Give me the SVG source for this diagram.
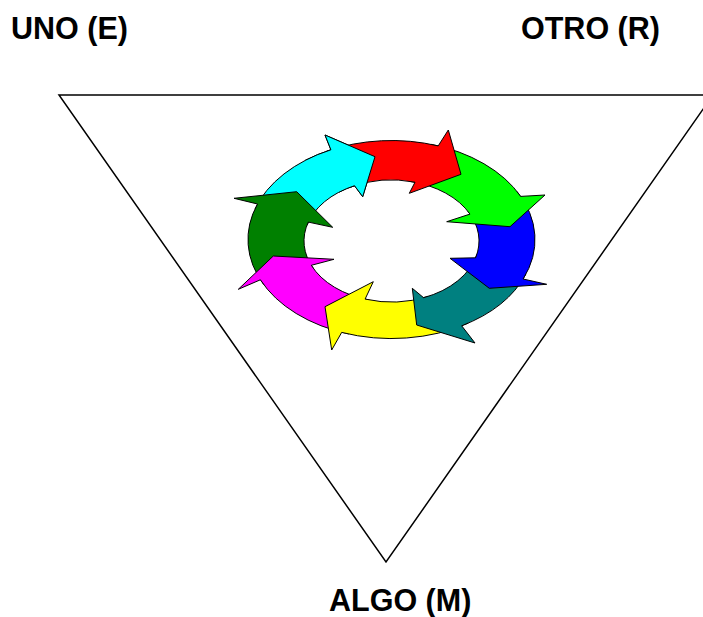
<svg xmlns="http://www.w3.org/2000/svg" width="703" height="617" viewBox="0 0 703 617">
<style>
.lbl{font-family:"Liberation Sans",Arial,sans-serif;font-weight:bold;font-size:30.5px;fill:#000}
.arw{stroke:#000;stroke-width:1;stroke-linejoin:miter}
.tri{fill:#fff;stroke:#000;stroke-width:1.5}
</style>
<rect width="703" height="617" fill="#fff"/>
<g id="triangle"><polygon class="tri" points="59,95 713,95 386,562"/></g>
<g id="label-uno"><text class="lbl" x="11" y="39">UNO (E)</text></g>
<g id="label-otro"><text class="lbl" x="521" y="39">OTRO (R)</text></g>
<g id="label-algo"><text class="lbl" x="329" y="611">ALGO (M)</text></g>
<g id="cycle">
<g id="arrow-cyan"><path class="arw" fill="#00FFFF" d="M255,208.9 A143.5,99 0 0 1 330.9,149.8 L325,135 L375,156.7 L362.7,196.7 L354.5,185.7 A87.5,61 0 0 0 307,225.2 Z"/></g>
<g id="arrow-darkgreen"><path class="arw" fill="#008000" d="M263.6,284.4 A143.5,99 0 0 1 257.5,204 L234,198.3 L296.7,191.7 L332.7,227.3 L308.3,222.1 A87.5,61 0 0 0 313.2,268.2 Z"/></g>
<g id="arrow-magenta"><path class="arw" fill="#FF00FF" d="M348.9,334 A143.5,99 0 0 1 260.4,279.8 L238.3,289.3 L273.3,256 L334,259.3 L311.3,265.3 A87.5,61 0 0 0 369.4,300 Z"/></g>
<g id="arrow-yellow"><path class="arw" fill="#FFFF00" d="M468.2,323.2 A143.5,99 0 0 1 341.7,332.4 L331.7,350 L325,306.7 L373.3,281.7 L365.1,299.1 A87.5,61 0 0 0 427.8,296.5 Z"/></g>
<g id="arrow-teal"><path class="arw" fill="#008080" d="M525.9,274.2 A143.5,99 0 0 1 461.7,325.8 L475,343 L416.7,325 L412.3,288.3 L423.6,297.7 A87.5,61 0 0 0 476.8,254.7 Z"/></g>
<g id="arrow-blue"><path class="arw" fill="#0000FF" d="M517.2,191.8 A143.5,99 0 0 1 523.1,279 L546.7,284.3 L489.3,288.3 L450,258.3 L475.6,257.8 A87.5,61 0 0 0 467.9,211.2 Z"/></g>
<g id="arrow-green"><path class="arw" fill="#00FF00" d="M431.1,144.3 A143.5,99 0 0 1 520.7,196.4 L545,195 L510,226.7 L446.7,221.7 L470,214.1 A87.5,61 0 0 0 410.6,181.5 Z"/></g>
<g id="arrow-red"><path class="arw" fill="#FF0000" d="M326.4,151.3 A143.5,99 0 0 1 438.2,145.9 L448.3,130 L461,174.3 L409.3,193.3 L415,182.2 A87.5,61 0 0 0 350.4,187.1 Z"/></g>
<g id="arrow-cyan-head">
<path fill="#00FFFF" stroke="none" d="M305.1,160.4 A143.5,99 0 0 1 330.9,149.8 L325,135 L375,156.7 L362.7,196.7 L354.5,185.7 A87.5,61 0 0 0 338.8,192.3 Z"/>
<path fill="none" class="arw" d="M305.1,160.4 A143.5,99 0 0 1 330.9,149.8 L325,135 L375,156.7 L362.7,196.7 L354.5,185.7 A87.5,61 0 0 0 338.8,192.3"/>
</g>
</g>
<g id="connectors"></g>
</svg>
